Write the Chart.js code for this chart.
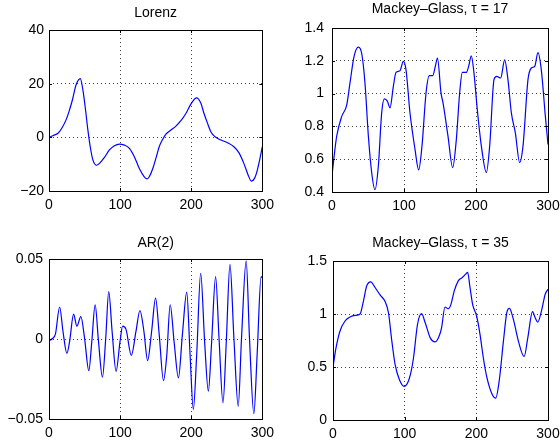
<!DOCTYPE html>
<html lang="en">
<head>
  <meta charset="UTF-8">
  <title>Time series</title>
  <script src="https://cdn.jsdelivr.net/npm/chart.js"></script>
  <style>
    body { margin: 0; background: #fff; overflow: hidden; width: 560px; height: 446px; position: relative; }
    canvas { position: absolute; }
  </style>
</head>
<body>
  <canvas id="lorenz" width="280" height="223" style="left:0;top:0"></canvas>
  <canvas id="mg17" width="290" height="223" style="left:280px;top:0"></canvas>
  <canvas id="ar2" width="280" height="223" style="left:0;top:223px"></canvas>
  <canvas id="mg35" width="290" height="223" style="left:280px;top:223px"></canvas>

  <script>
    // values
    const lorenzX = [0, 6, 12.6, 18, 24, 28, 33, 38, 44, 47.7, 51.4, 54.7, 58, 61.7, 67, 71, 78, 85, 92, 99, 106, 113, 120, 127, 134, 138, 141, 146, 151, 155, 160, 164.5, 171.5, 178.5, 185.5, 192.5, 199.5, 207.5, 213.6, 218, 223, 227.6, 233.6, 241.6, 251, 260, 267, 274, 280, 284.6, 289, 293, 296.7, 300];
    const lorenzY = [0, 0.7, 1.5, 3.4, 6.5, 9.5, 14, 19.5, 21.9, 17.6, 10.2, 2.7, -3.5, -8.4, -10.4, -9.7, -7.5, -4.7, -3.1, -2.5, -2.9, -4.1, -7.2, -11.6, -14.7, -15.5, -14.7, -11.6, -7.2, -3.5, -0.7, 1.2, 2.7, 4.2, 6.2, 8.9, 12.4, 14.7, 12.7, 8.9, 5.2, 2.1, 0.2, -1, -2, -3.5, -5.7, -9.7, -14, -16.3, -15.3, -12.2, -7.8, -3.5];

    const mg17X = [0, 3, 6.5, 13.4, 20.4, 25, 30.6, 36.6, 41.2, 45.8, 50.5, 55.1, 59.7, 64.4, 69, 72.7, 76.9, 80.6, 85.2, 88.9, 94.4, 99, 102.8, 108.3, 115.3, 120.4, 125, 130.6, 135.2, 139.8, 143.5, 146.5, 151.4, 154.2, 161.1, 167.6, 172.7, 177.3, 181, 186.6, 189.8, 193.5, 197.2, 201.8, 207.4, 214.4, 219, 225, 228.7, 234.3, 239.8, 244.4, 249.1, 254.6, 260.6, 265.3, 272.2, 276.9, 281.5, 286.1, 290.7, 296.3, 300];
    const mg17Y = [0.5, 0.62, 0.74, 0.86, 0.93, 1.065, 1.226, 1.283, 1.246, 1.065, 0.741, 0.519, 0.414, 0.56, 0.883, 0.968, 0.954, 0.913, 1.044, 1.129, 1.139, 1.196, 1.145, 0.883, 0.66, 0.535, 0.681, 1.004, 1.109, 1.109, 1.166, 1.216, 1.004, 0.943, 0.741, 0.549, 0.721, 1.004, 1.129, 1.129, 1.166, 1.23, 1.125, 0.903, 0.681, 0.519, 0.681, 1.085, 1.105, 1.095, 1.206, 1.085, 0.883, 0.762, 0.58, 0.681, 1.085, 1.156, 1.166, 1.25, 1.145, 0.863, 0.69];

    const ar2X = [0, 4, 9, 15, 19.6, 25.2, 29, 34.6, 39.2, 44.8, 50, 56, 60.2, 64.9, 69.6, 75.2, 79.8, 84, 88.7, 94.3, 99.9, 103.6, 108.3, 115.8, 122.3, 127.9, 133.5, 138.7, 144.3, 149.9, 155, 161, 165.7, 170.4, 176, 182, 187.6, 193.7, 198.4, 203, 207.7, 213.3, 218.9, 224.1, 228.7, 234.3, 239.1, 244.7, 249.3, 254.5, 260.1, 266.1, 270.7, 277.3, 282, 288.1, 292.7, 298.3, 300];
    const ar2Y = [-0.001, 0, 0.003, 0.02, 0.005, -0.009, -0.0015, 0.0156, 0.008, 0.014, 0.0006, -0.0198, -0.0015, 0.0214, -0.0015, -0.0239, 0.0006, 0.0297, 0.005, -0.0202, -0.0015, 0.008, 0.006, -0.0102, 0.0047, 0.0178, 0.0047, -0.0135, 0.0047, 0.0255, 0.0027, -0.026, -0.0098, 0.0214, -0.002, -0.0243, 0.0027, 0.0293, -0.0098, -0.044, -0.0098, 0.0411, -0.002, -0.0326, -0.002, 0.039, 0.0006, -0.0399, -0.002, 0.0467, 0, -0.042, 0, 0.0488, 0, -0.0467, -0.0098, 0.039, 0.038];

    const mg35X = [0, 4.2, 9.8, 16.8, 23.8, 30.8, 37.8, 42.4, 47.1, 52.7, 58.7, 65.7, 72.7, 77.4, 82.1, 86.7, 92.7, 99.3, 106.7, 112.3, 117.9, 123.5, 128.7, 135.7, 142.7, 148, 151.5, 156.2, 160.8, 164.6, 169.2, 174.8, 180.4, 185, 187.9, 191.2, 194.8, 200.4, 205.2, 209.8, 214.4, 221.4, 227, 231.8, 237.8, 242.5, 246.2, 251.7, 258.7, 266.7, 271.8, 278.4, 282.1, 285.8, 291.4, 296.1, 300];
    const mg35Y = [0.5, 0.68, 0.84, 0.934, 0.972, 0.987, 1.0, 1.12, 1.266, 1.304, 1.25, 1.18, 1.117, 1.012, 0.744, 0.522, 0.38, 0.317, 0.396, 0.585, 0.901, 1.003, 0.917, 0.775, 0.737, 0.79, 0.87, 1.066, 1.05, 1.091, 1.218, 1.313, 1.344, 1.376, 1.392, 1.25, 1.091, 0.981, 0.806, 0.585, 0.412, 0.253, 0.206, 0.364, 0.744, 1.012, 1.053, 0.949, 0.744, 0.598, 0.775, 1.022, 0.965, 0.924, 1.044, 1.186, 1.233];

    const FONT = { family: "'Liberation Sans', Arial, Helvetica, sans-serif", size: 14 };

    // black box round the plot with short inward ticks, like matlab axes
    const boxPlugin = {
      id: 'box',
      afterDraw(chart) {
        const { ctx, chartArea: a, scales } = chart;
        ctx.save();
        ctx.strokeStyle = '#000';
        ctx.lineWidth = 1;
        ctx.strokeRect(Math.round(a.left) + 0.5, Math.round(a.top) + 0.5, Math.round(a.right - a.left), Math.round(a.bottom - a.top));
        ctx.beginPath();
        scales.x.ticks.forEach(t => {
          const px = Math.round(scales.x.getPixelForValue(t.value)) + 0.5;
          ctx.moveTo(px, a.bottom); ctx.lineTo(px, a.bottom - 3);
          ctx.moveTo(px, a.top); ctx.lineTo(px, a.top + 3);
        });
        scales.y.ticks.forEach(t => {
          const py = Math.round(scales.y.getPixelForValue(t.value)) + 0.5;
          ctx.moveTo(a.left, py); ctx.lineTo(a.left + 3, py);
          ctx.moveTo(a.right, py); ctx.lineTo(a.right - 3, py);
        });
        ctx.stroke();
        ctx.restore();
      }
    };

    function makePanel(id, title, xs, ys, yMin, yMax, yStep, lay) {
      const points = xs.map((x, i) => ({ x: x, y: ys[i] }));
      new Chart(document.getElementById(id), {
        type: 'line',
        data: {
          datasets: [{
            data: points,
            borderColor: '#0000ff',
            borderWidth: 1.2,
            pointRadius: 0,
            cubicInterpolationMode: 'monotone',
            fill: false
          }]
        },
        options: {
          responsive: false,
          animation: false,
          layout: { padding: { left: 0, right: lay.padRight, top: 0, bottom: 0 } },
          plugins: {
            legend: { display: false },
            tooltip: { enabled: false },
            title: {
              display: true,
              text: title,
              fullSize: false,
              color: '#000',
              font: { family: FONT.family, size: 14, weight: 'normal' },
              padding: { top: lay.titleTop, bottom: lay.titleBottom }
            }
          },
          scales: {
            x: {
              type: 'linear',
              min: 0,
              max: 300,
              border: { display: false, dash: [1, 3] },
              grid: { color: 'rgba(0,0,0,0.75)', drawTicks: false, lineWidth: 1 },
              ticks: { stepSize: 100, color: '#000', font: FONT, padding: lay.xPad, maxRotation: 0 },
              afterFit: s => { s.height = lay.xh; }
            },
            y: {
              min: yMin,
              max: yMax,
              border: { display: false, dash: [1, 3] },
              grid: { color: 'rgba(0,0,0,0.75)', drawTicks: false, lineWidth: 1 },
              ticks: {
                stepSize: yStep,
                color: '#000',
                font: FONT,
                padding: lay.yPad,
                callback: v => String(Math.round(v * 1000) / 1000).replace('-', '\u2212')
              },
              afterFit: s => { s.width = lay.yw; }
            }
          }
        },
        plugins: [boxPlugin]
      });
    }

    makePanel('lorenz', 'Lorenz', lorenzX, lorenzY, -20, 40, 20,
      { yw: 49, padRight: 17, titleTop: 4.6, titleBottom: 8.6, xh: 32, xPad: 6, yPad: 5 });
    makePanel('mg17', 'Mackey\u2013Glass, \u03c4 = 17', mg17X, mg17Y, 0.4, 1.4, 0.2,
      { yw: 52, padRight: 22, titleTop: 1, titleBottom: 10.2, xh: 31, xPad: 6, yPad: 8 });
    makePanel('ar2', 'AR(2)', ar2X, ar2Y, -0.05, 0.05, 0.05,
      { yw: 49, padRight: 17, titleTop: 11.6, titleBottom: 7.6, xh: 27, xPad: 6, yPad: 6 });
    makePanel('mg35', 'Mackey\u2013Glass, \u03c4 = 35', mg35X, mg35Y, 0, 1.5, 0.5,
      { yw: 53, padRight: 22, titleTop: 12, titleBottom: 9.2, xh: 26, xPad: 6, yPad: 6 });
  </script>
</body>
</html>
